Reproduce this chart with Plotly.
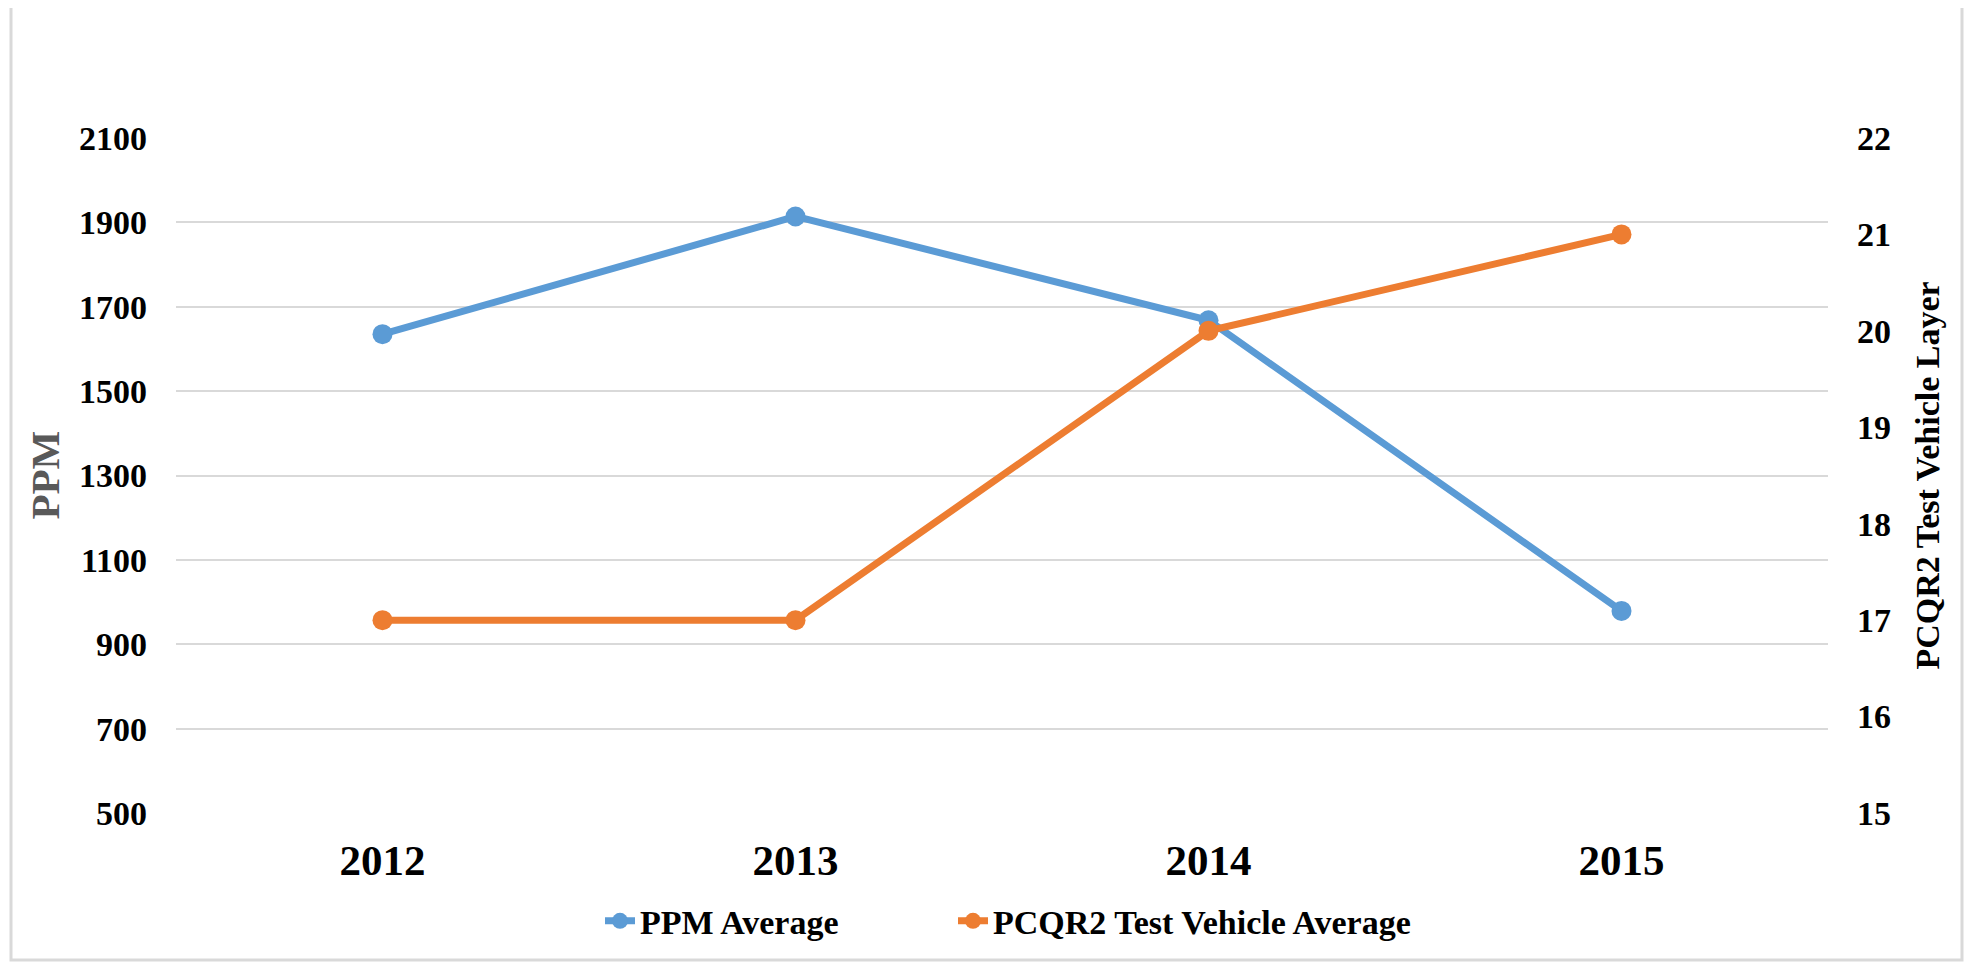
import plotly.graph_objects as go

years = ["2012", "2013", "2014", "2015"]
ppm_avg = [1635, 1914, 1668, 979]
pcqr2_avg = [17, 17, 20, 21]
left_ticks = [500, 700, 900, 1100, 1300, 1500, 1700, 1900, 2100]
right_ticks = [15, 16, 17, 18, 19, 20, 21, 22]

BLUE = "#5B9BD5"
ORANGE = "#ED7D31"
GRID = "#D9D9D9"
FONT = "Liberation Serif"

OFF = 8  # page body margin
W, H = 1972 - 2 * OFF, 970 - 2 * OFF
# plot area in page pixels -> figure pixels
L, R, T, B = 176 - OFF, 1828 - OFF, 138 - OFF, 818 - OFF

fig = go.Figure()
fig.add_trace(go.Scatter(
    x=years, y=ppm_avg, name="PPM Average", mode="lines+markers",
    line=dict(color=BLUE, width=7), marker=dict(size=20, color=BLUE),
    yaxis="y", legend="legend"))
fig.add_trace(go.Scatter(
    x=years, y=pcqr2_avg, name="PCQR2 Test Vehicle Average", mode="lines+markers",
    line=dict(color=ORANGE, width=7), marker=dict(size=20, color=ORANGE),
    yaxis="y2", legend="legend2"))

def px_x(p):
    return (p - OFF - L) / (R - L)

def px_y(p):
    return (B - (p - OFF)) / (B - T)

legend_common = dict(orientation="h", xanchor="left", y=px_y(927), yanchor="middle",
                     font=dict(size=34, family=FONT, weight="bold"),
                     bgcolor="rgba(0,0,0,0)")

fig.update_layout(
    width=W, height=H,
    margin=dict(l=L, r=W - R, t=T, b=H - B, pad=0),
    paper_bgcolor="white", plot_bgcolor="white",
    font=dict(family=FONT, color="black", weight="bold"),
    showlegend=True,
    legend=dict(x=px_x(600), **legend_common),
    legend2=dict(x=px_x(953), **legend_common),
    xaxis=dict(type="category", range=[-0.5, 3.5], showgrid=False, zeroline=False,
               showline=False, ticks="", ticklabelstandoff=18,
               tickfont=dict(size=43, family=FONT, weight="bold")),
    yaxis=dict(range=[500, 2100], tickvals=left_ticks, showgrid=True, gridcolor=GRID,
               gridwidth=2, zeroline=False, showline=False, ticks="",
               ticklabelstandoff=28,
               tickfont=dict(size=34, family=FONT, weight="bold")),
    yaxis2=dict(range=[15, 22], tickvals=right_ticks, overlaying="y", side="right",
                showgrid=False, zeroline=False, showline=False, ticks="",
                ticklabelstandoff=28,
                tickfont=dict(size=34, family=FONT, weight="bold")),
    shapes=[dict(type="rect", xref="paper", yref="paper",
                 x0=px_x(11), x1=px_x(1962), y0=px_y(966), y1=px_y(5),
                 line=dict(color=GRID, width=3), fillcolor="rgba(0,0,0,0)", layer="below")],
    annotations=[
        dict(text="PPM", xref="paper", yref="paper", x=px_x(44), y=px_y(478),
             xanchor="center", yanchor="middle", textangle=-90, showarrow=False,
             font=dict(size=41, family=FONT, color="#595959", weight="bold")),
        dict(text="PCQR2 Test Vehicle Layer", xref="paper", yref="paper",
             x=px_x(1927), y=px_y(478), xanchor="center", yanchor="middle",
             textangle=-90, showarrow=False,
             font=dict(size=34, family=FONT, color="black", weight="bold")),
    ],
)

fig.write_html("out.html")
